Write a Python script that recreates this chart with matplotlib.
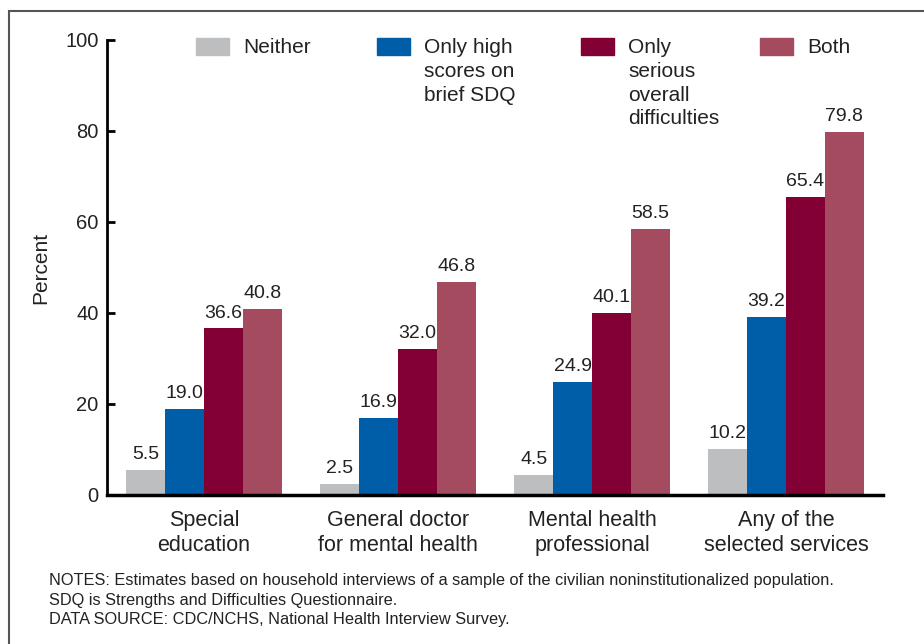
import matplotlib
matplotlib.use("Agg")
import matplotlib.pyplot as plt
from matplotlib.patches import Rectangle
import numpy as np

plt.rcParams['font.family'] = ['Liberation Sans', 'DejaVu Sans']

###Data
categories = ["Special\neducation", "General doctor\nfor mental health",
              "Mental health\nprofessional", "Any of the\nselected services"]
series = ["Neither", "Only high\nscores on\nbrief SDQ",
          "Only\nserious\noverall\ndifficulties", "Both"]
neither = [5.5, 2.5, 4.5, 10.2]
only_sdq = [19.0, 16.9, 24.9, 39.2]
only_serious = [36.6, 32.0, 40.1, 65.4]
both = [40.8, 46.8, 58.5, 79.8]
colors = ["#BDBEC0", "#005DA8", "#830034", "#A44B60"]

notes = ("NOTES: Estimates based on household interviews of a sample of the civilian noninstitutionalized population.\n"
         "SDQ is Strengths and Difficulties Questionnaire.\n"
         "DATA SOURCE: CDC/NCHS, National Health Interview Survey.")

###Figure
fig = plt.figure(figsize=(9.24, 6.44), dpi=100)
ax = fig.add_axes([0.1158, 0.2314, 0.8398, 0.7065])

x = np.arange(len(categories))
w = 0.2
for i, vals in enumerate([neither, only_sdq, only_serious, both]):
    pos = x + (i - 1.5) * w
    ax.bar(pos, vals, width=w, color=colors[i], zorder=2)
    for p, v in zip(pos, vals):
        ax.annotate(f"{v:.1f}", (p, v), xytext=(0, 5), textcoords="offset points",
                    ha="center", va="bottom", fontsize=14, color="#222222")

ax.set_xlim(-0.5, 3.5)
ax.set_ylim(0, 100)
ax.set_yticks([0, 20, 40, 60, 80, 100])
ax.set_xticks(x)
ax.set_xticklabels(categories, fontsize=15.5, color="#222222", linespacing=1.25)
ax.tick_params(axis="x", length=0, pad=10.5)
ax.tick_params(axis="y", direction="in", length=6, width=2, labelsize=14.5,
               labelcolor="#222222", pad=6)
for s in ["top", "right"]:
    ax.spines[s].set_visible(False)
ax.spines["left"].set_linewidth(2)
ax.spines["bottom"].set_linewidth(2.5)
ax.set_ylabel("Percent", fontsize=15, color="#222222", labelpad=11)

###Legend (drawn by hand to match layout)
leg_x = [196, 377, 581, 760]
for lx, lab, c in zip(leg_x, series, colors):
    fig.patches.append(Rectangle((lx / 924, 1 - 55 / 644), 33 / 924, 17 / 644,
                                 transform=fig.transFigure, color=c))
    fig.text((lx + 47) / 924, 1 - 38 / 644, lab, fontsize=15, va="top",
             ha="left", linespacing=1.32, color="#222222")

###Notes
fig.text(49 / 924, 1 - 573 / 644, notes, fontsize=11.8, va="top", ha="left",
         linespacing=1.38, color="#222222")

###Frame
fig.patches.append(Rectangle((9 / 924, -0.05), 1.1, 1 - 11 / 644 + 0.05,
                             transform=fig.transFigure, fill=False,
                             edgecolor="#555555", linewidth=1.5))

fig.savefig("out.png", dpi=100)
